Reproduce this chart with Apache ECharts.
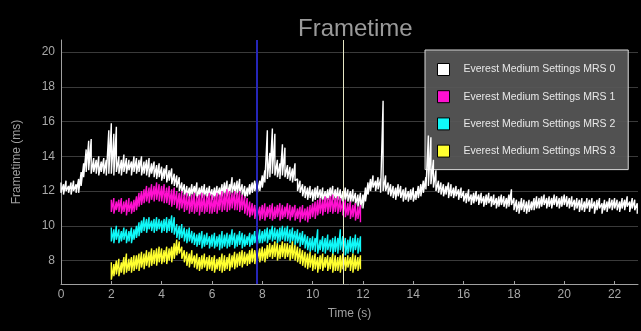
<!DOCTYPE html>
<html>
<head>
<meta charset="utf-8">
<script src="https://cdn.jsdelivr.net/npm/echarts@6/dist/echarts.min.js"></script>
<style>
html,body{margin:0;padding:0;background:#000;}
#chart{width:641px;height:331px;}
</style>
</head>
<body>
<div id="chart"></div>
<script>
// ---- data (per 0.1 s: upper / lower edge of the noisy trace) ----
var seriesNames = ['Everest Medium Settings MRS 0','Everest Medium Settings MRS 1','Everest Medium Settings MRS 2','Everest Medium Settings MRS 3'];
var sampleStep = 0.1;
var mrs0Start = 0.0;
var mrs0High = [
12.5,12.4,12.6,12.3,12.5,12.6,12.4,12.7,13.1,13.6,
14.4,14.9,15.0,13.9,13.8,14.0,13.7,13.9,13.8,15.5,
15.9,15.3,15.7,14.0,13.8,14.1,13.9,13.8,13.7,14.0,
13.9,13.8,14.0,13.7,13.8,13.9,13.6,13.7,13.5,13.6,
13.4,13.3,13.5,13.2,13.3,13.0,12.9,12.8,12.5,12.4,
12.3,12.2,12.4,12.3,12.5,12.2,12.3,12.4,12.2,12.3,
12.1,12.2,12.3,12.2,12.4,12.5,12.6,12.4,12.8,12.5,
12.6,12.7,12.4,12.3,12.2,12.4,12.5,12.6,12.7,12.6,
12.9,13.2,15.5,14.2,15.6,15.3,13.8,13.6,14.7,14.5,
13.5,13.4,13.3,13.6,12.7,12.6,12.4,12.3,12.2,12.3,
12.1,12.2,12.3,12.1,12.2,12.0,12.1,12.2,12.3,12.1,
12.2,12.1,12.0,12.2,12.1,12.0,12.1,11.9,11.8,11.9,
11.8,12.2,12.5,12.7,12.9,12.6,12.8,12.7,17.2,12.9,
12.5,12.4,12.3,12.2,12.4,12.3,12.1,12.2,12.0,12.1,
12.2,12.0,12.3,12.4,12.6,12.8,15.2,15.1,13.8,13.2,
12.6,12.5,12.4,12.3,12.5,12.4,12.2,12.3,12.1,12.2,
12.0,11.9,12.1,11.8,11.9,12.0,11.8,11.9,11.7,11.8,
11.9,11.7,11.8,11.6,11.7,11.8,11.7,11.6,11.8,12.1,
11.6,11.5,11.4,11.6,11.5,11.4,11.5,11.4,11.6,11.7,
11.6,11.7,11.8,11.6,11.7,11.6,11.8,11.7,11.6,11.7,
11.8,11.7,11.6,11.7,11.5,11.6,11.5,11.6,11.4,11.6,
11.5,11.6,11.4,11.5,11.6,11.3,11.5,11.4,11.6,11.5,
11.6,11.5,11.4,11.6,11.5,11.7,11.4,11.6,11.5,11.3
];
var mrs0Low = [
11.9,11.8,12.0,11.9,11.8,12.0,11.9,11.9,12.3,12.8,
13.1,13.2,13.0,13.1,13.0,12.9,13.1,13.0,12.9,13.0,
13.0,12.9,13.1,13.0,12.9,13.1,13.0,13.2,12.9,13.1,
13.0,13.1,12.9,13.0,12.9,12.8,13.0,12.8,12.7,12.8,
12.6,12.7,12.5,12.6,12.4,12.3,12.2,12.0,11.9,11.7,
11.7,11.6,11.8,11.7,11.6,11.7,11.6,11.7,11.6,11.7,
11.5,11.6,11.7,11.6,11.7,11.8,11.7,11.8,11.9,11.8,
11.8,11.9,11.7,11.6,11.7,11.8,11.9,12.0,11.9,12.0,
12.2,12.5,12.7,12.8,13.0,12.9,12.8,12.7,12.9,12.8,
12.7,12.6,12.5,12.6,12.0,11.9,11.7,11.6,11.5,11.6,
11.4,11.5,11.6,11.4,11.5,11.4,11.5,11.6,11.5,11.4,
11.5,11.4,11.3,11.5,11.4,11.3,11.4,11.2,11.1,11.0,
11.0,11.4,11.8,12.0,12.2,12.0,12.1,11.9,12.0,12.0,
11.8,11.7,11.6,11.5,11.7,11.6,11.4,11.5,11.4,11.5,
11.4,11.5,11.6,11.7,11.9,12.1,12.3,12.4,12.2,12.0,
11.9,11.8,11.7,11.8,11.6,11.7,11.6,11.7,11.5,11.6,
11.4,11.3,11.4,11.2,11.3,11.4,11.2,11.3,11.1,11.2,
11.3,11.1,11.2,11.0,11.1,11.2,11.1,11.0,11.1,11.2,
10.9,10.8,10.7,10.9,10.8,10.7,10.8,10.9,10.9,11.0,
11.0,11.1,11.2,11.0,11.1,11.0,11.2,11.1,11.0,11.1,
11.2,11.1,11.0,11.1,10.9,11.0,10.8,10.9,10.8,11.0,
10.8,11.0,10.7,10.9,11.0,10.7,10.9,10.8,11.0,10.9,
11.0,10.9,10.8,11.0,10.9,11.1,10.8,11.0,10.9,10.7
];
var mrsOtherStart = 2.0;
var mrs1High = [
11.5,11.6,11.4,11.5,11.6,11.4,11.5,11.6,11.4,11.5,
11.7,11.9,12.0,12.1,12.3,12.2,12.4,12.3,12.5,12.4,
12.3,12.4,12.2,12.3,12.1,12.2,12.0,11.9,12.0,11.8,
11.9,11.7,11.8,11.9,11.7,11.8,11.9,11.8,11.7,11.9,
11.8,11.7,11.9,11.8,12.0,11.9,12.1,12.0,11.9,12.0,
11.9,12.0,11.8,11.7,11.6,11.4,11.3,11.2,11.3,11.1,
11.2,11.3,11.1,11.2,11.3,11.1,11.2,11.3,11.2,11.1,
11.3,11.2,11.1,11.2,11.0,11.1,11.2,11.0,11.1,11.2,
11.3,11.4,11.5,11.6,11.5,11.7,11.6,11.7,11.8,11.6,
11.7,11.6,11.4,11.5,11.3,11.4,11.2,11.3,11.1,11.2
];
var mrs1Low = [
10.8,10.7,10.9,10.8,10.7,10.8,10.6,10.8,10.7,10.8,
10.9,11.1,11.2,11.3,11.4,11.3,11.5,11.4,11.5,11.4,
11.4,11.3,11.3,11.2,11.1,11.2,11.0,10.9,11.0,10.8,
10.9,10.7,10.8,10.7,10.8,10.6,10.8,10.7,10.8,10.7,
10.7,10.8,10.7,10.9,10.8,10.9,10.8,10.9,11.0,10.9,
10.9,10.8,10.9,10.7,10.6,10.5,10.6,10.4,10.5,10.3,
10.4,10.3,10.5,10.4,10.3,10.4,10.5,10.3,10.4,10.5,
10.4,10.3,10.5,10.3,10.4,10.2,10.4,10.3,10.2,10.4,
10.5,10.4,10.6,10.7,10.6,10.8,10.7,10.8,10.7,10.8,
10.7,10.8,10.6,10.5,10.6,10.4,10.5,10.3,10.4,10.2
];
var mrs2High = [
9.9,9.8,10.0,9.8,9.7,9.9,9.8,9.7,9.9,9.8,
10.0,10.2,10.3,10.5,10.4,10.5,10.3,10.4,10.5,10.4,
10.3,10.4,10.5,10.4,10.6,10.5,10.1,10.0,10.1,9.9,
9.8,9.9,9.7,9.6,9.5,9.6,9.7,9.5,9.6,9.4,
9.5,9.6,9.4,9.5,9.7,9.5,9.6,9.5,9.8,9.6,
9.5,9.7,9.6,9.5,9.4,9.6,9.5,9.7,9.6,9.8,
9.7,9.8,9.9,9.8,10.0,9.9,9.8,9.9,10.0,9.9,
10.0,9.8,9.9,9.7,9.8,9.6,9.7,9.5,9.4,9.3,
9.4,9.3,9.8,9.2,9.4,9.3,9.5,9.2,9.3,9.4,
9.3,9.8,9.4,9.3,9.2,9.4,9.3,9.5,9.3,9.4
];
var mrs2Low = [
9.1,9.0,9.2,9.0,9.1,9.2,9.0,9.1,9.0,9.2,
9.3,9.4,9.6,9.7,9.6,9.8,9.7,9.6,9.7,9.8,
9.6,9.7,9.6,9.7,9.6,9.5,9.3,9.2,9.3,9.1,
9.0,9.1,9.0,8.9,8.8,8.9,8.7,8.8,8.9,8.7,
8.8,8.7,8.8,8.6,8.7,8.8,8.7,8.8,8.9,8.7,
8.8,8.9,8.7,8.8,8.9,8.8,8.9,9.0,8.9,9.0,
9.0,9.1,9.0,9.2,9.1,9.2,9.0,9.1,9.2,9.1,
9.1,9.0,9.1,8.9,9.0,8.8,8.9,8.7,8.6,8.5,
8.6,8.5,8.4,8.6,8.5,8.4,8.6,8.5,8.3,8.5,
8.4,8.6,8.5,8.3,8.4,8.5,8.4,8.6,8.4,8.5
];
var mrs3High = [
7.9,7.8,8.0,8.1,7.9,8.2,8.4,8.1,8.2,8.3,
8.3,8.4,8.5,8.4,8.6,8.5,8.7,8.6,8.7,8.8,
8.7,8.6,8.8,8.7,8.8,9.0,9.2,9.1,8.8,8.6,
8.5,8.4,8.6,8.3,8.4,8.2,8.3,8.4,8.2,8.3,
8.2,8.3,8.1,8.2,8.4,8.3,8.2,8.4,8.3,8.5,
8.4,8.5,8.6,8.5,8.4,8.6,8.7,8.6,8.8,8.7,
8.8,8.7,8.9,9.0,8.9,9.1,9.0,8.9,9.1,9.0,
9.0,8.9,9.1,8.9,8.8,8.7,8.6,8.5,8.4,8.5,
8.3,8.4,8.2,8.3,8.4,8.2,8.3,8.2,8.4,8.3,
8.2,8.3,8.4,8.2,8.3,8.2,8.4,8.3,8.2,8.3
];
var mrs3Low = [
6.9,7.1,7.2,7.1,7.3,7.2,7.3,7.4,7.3,7.4,
7.5,7.4,7.6,7.5,7.7,7.6,7.7,7.8,7.7,7.9,
7.8,7.9,7.8,8.0,7.9,8.1,8.3,8.4,8.1,7.9,
7.7,7.6,7.8,7.6,7.5,7.4,7.5,7.6,7.4,7.5,
7.4,7.3,7.5,7.4,7.3,7.4,7.5,7.4,7.6,7.5,
7.6,7.7,7.6,7.8,7.7,7.8,7.9,7.8,8.0,7.9,
8.0,7.9,8.1,8.2,8.1,8.2,8.0,8.1,8.2,8.1,
8.2,8.0,8.1,8.0,7.9,7.8,7.7,7.6,7.5,7.6,
7.4,7.5,7.3,7.5,7.4,7.6,7.4,7.5,7.3,7.4,
7.4,7.3,7.5,7.4,7.6,7.4,7.3,7.5,7.4,7.5
];
var markerTimes = [7.77, 11.23];
var xTickLabels = [0,2,4,6,8,10,12,14,16,18,20,22];
var yTickLabels = [8,10,12,14,16,18,20];

// ---- build the trace: at each sample draw upper edge then lower edge ----
function buildTrace(start, high, low) {
  var out = [];
  for (var i = 0; i < high.length; i++) {
    var t = +(start + i * sampleStep).toFixed(2);
    out.push([t, high[i]]);
    out.push([t, low[i]]);
  }
  return out;
}
var colors = ['#ffffff', '#ff10d0', '#10f8f8', '#ffff30'];
var traces = [
  buildTrace(mrs0Start, mrs0High, mrs0Low),
  buildTrace(mrsOtherStart, mrs1High, mrs1Low),
  buildTrace(mrsOtherStart, mrs2High, mrs2Low),
  buildTrace(mrsOtherStart, mrs3High, mrs3Low)
];

var chart = echarts.init(document.getElementById('chart'));
var font = 'Liberation Sans, Arial, sans-serif';
var series = traces.map(function (d, k) {
  return {
    name: seriesNames[k], type: 'line', data: d, showSymbol: false, symbol: 'none',
    color: colors[k], lineStyle: {width: 1.4, color: colors[k]},
    itemStyle: {color: colors[k], borderColor: '#000', borderWidth: 1},
    animation: false, silent: true, z: 2 + k * 0.1
  };
});
series.push({
  type: 'line', data: [], silent: true, z: 10, animation: false,
  markLine: {
    symbol: 'none', silent: true, animation: false, label: {show: false},
    data: [
      {xAxis: markerTimes[0], lineStyle: {color: '#2626b8', width: 2, type: 'solid'}},
      {xAxis: markerTimes[1], lineStyle: {color: '#e6e6c4', width: 1, type: 'solid'}}
    ]
  }
});

chart.setOption({
  backgroundColor: '#000000',
  animation: false,
  title: {
    text: 'Frametime', left: 293, top: 12,
    textStyle: {color: '#9a9a9a', fontSize: 24, fontWeight: 'normal', fontFamily: font}
  },
  legend: {
    data: seriesNames, orient: 'vertical', left: 425, top: 50, z: 1,
    padding: [13, 13, 12, 12], itemWidth: 12, itemHeight: 12, itemGap: 14.2,
    icon: 'rect',
    backgroundColor: 'rgba(88,88,88,0.92)', borderColor: '#d8d8d8', borderWidth: 1,
    itemStyle: {borderColor: '#000', borderWidth: 1},
    textStyle: {color: '#e8e8e8', fontSize: 10.5, fontFamily: font, padding: [0, 0, 0, 9]}
  },
  grid: {left: 61, right: 3, top: 40, bottom: 47, containLabel: false},
  xAxis: {
    type: 'value', min: 0, max: 22.93,
    name: 'Time (s)', nameLocation: 'middle', nameGap: 24,
    nameTextStyle: {color: '#a0a0a0', fontSize: 12, fontFamily: font},
    axisLine: {show: true, onZero: false, lineStyle: {color: '#a0a0a0', width: 1}},
    axisTick: {show: true, inside: true, length: 3, customValues: xTickLabels, lineStyle: {color: '#a0a0a0'}},
    axisLabel: {color: '#a8a8a8', fontSize: 12, fontFamily: font, margin: 5, customValues: xTickLabels},
    splitLine: {show: false}
  },
  yAxis: {
    type: 'value', min: 6.65, max: 20.7,
    name: 'Frametime (ms)', nameLocation: 'middle', nameGap: 38, nameRotate: 90,
    nameTextStyle: {color: '#a0a0a0', fontSize: 12, fontFamily: font},
    axisLine: {show: true, onZero: false, lineStyle: {color: '#a0a0a0', width: 1}},
    axisTick: {show: false, customValues: yTickLabels},
    axisLabel: {color: '#a8a8a8', fontSize: 12, fontFamily: font, margin: 6, customValues: yTickLabels},
    splitLine: {show: true, lineStyle: {color: '#3a3a3a', width: 1}}
  },
  series: series
});
</script>
</body>
</html>
